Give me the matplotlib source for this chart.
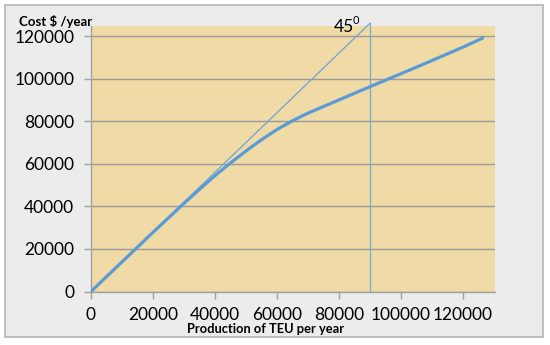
import matplotlib
matplotlib.use("Agg")
import matplotlib.pyplot as plt
from matplotlib.patches import Rectangle

plt.rcParams['font.family'] = ['Lato', 'DejaVu Sans']

# Data
production = [0, 10000, 20000, 30000, 35000, 40000, 45000, 50000, 55000, 60000,
              65000, 70000, 80000, 90000, 100000, 110000, 120000, 126300]
cost = [0, 13900, 27800, 41400, 48000, 54400, 60400, 66000, 71300, 76100,
        80200, 83800, 90000, 96200, 102300, 108500, 114800, 119000]
diag_x = [0, 90000]
diag_y = [0, 126000]
vline_x = 90000
x_ticks = [0, 20000, 40000, 60000, 80000, 100000, 120000]
y_ticks = [0, 20000, 40000, 60000, 80000, 100000, 120000]

fig = plt.figure(figsize=(5.5, 3.45), dpi=100)
fig.patch.set_facecolor('white')
# inner panel with border
fig.patches.append(Rectangle((5/550, 1-337/345), 538/550, 332/345,
                             transform=fig.transFigure, facecolor='#ECECEC',
                             edgecolor='#B5B5B5', linewidth=1.2, zorder=-5))

ax = fig.add_axes([91/550, 1-291.5/345, 404/550, 265.5/345])
ax.set_zorder(2)
ax.set_facecolor('#F0DAA5')
ax.set_xlim(0, 130300)
ax.set_ylim(0, 124700)

ax.set_xticks(x_ticks)
ax.set_yticks(y_ticks)
ax.set_xticklabels([str(v) for v in x_ticks], fontsize=12.5)
ax.set_yticklabels([str(v) for v in y_ticks], fontsize=12.5)
ax.tick_params(axis='both', direction='out', length=5, color='#A0A0A0', width=1,
               labelcolor='black')
ax.tick_params(axis='x', pad=6)
ax.tick_params(axis='y', pad=7)

ax.yaxis.grid(True, color='#9A9A9A', linewidth=1)
ax.set_axisbelow(True)
for s in ['top', 'right']:
    ax.spines[s].set_visible(False)
for s in ['left', 'bottom']:
    ax.spines[s].set_color('#A0A0A0')
    ax.spines[s].set_linewidth(1)

ax.plot(diag_x, diag_y, color='#6FA3D6', linewidth=0.9, clip_on=False, zorder=3)
ax.plot([vline_x, vline_x], [0, 126000], color='#7EA8CC', linewidth=0.9,
        clip_on=False, zorder=3)
ax.plot(production, cost, color='#5B9BD5', linewidth=2.3, zorder=4,
        solid_capstyle='round', solid_joinstyle='round')

fig.text(19/550, 1-21/345, 'Cost $ /year', fontsize=9.5, fontweight='bold',
         ha='left', va='center')
fig.text(266/550, 1-329/345, 'Production of TEU per year', fontsize=9.3,
         fontweight='bold', ha='center', va='center')
fig.text(334/550, 1-27/345, '45', fontsize=12.5, ha='left', va='center')
fig.text(353/550, 1-21/345, '0', fontsize=8, ha='left', va='center')

fig.savefig('out.png', dpi=100)
